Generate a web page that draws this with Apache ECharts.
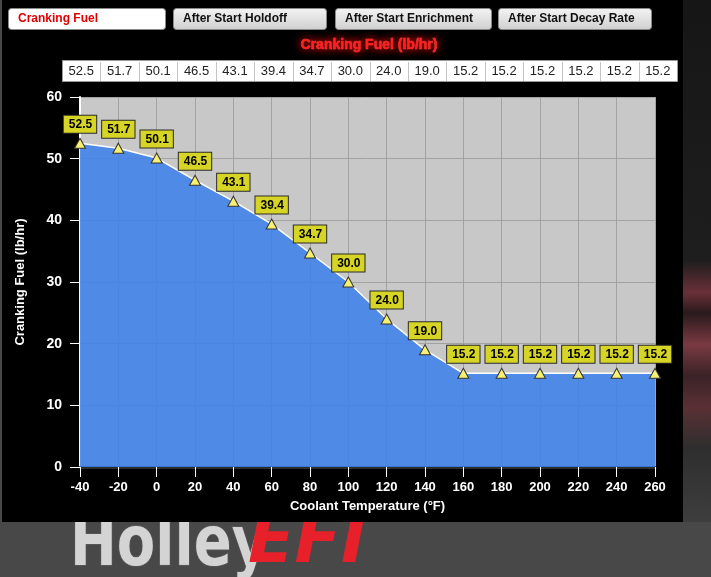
<!DOCTYPE html>
<html>
<head>
<meta charset="utf-8">
<script src="https://cdn.jsdelivr.net/npm/echarts@6/dist/echarts.min.js"></script>
<style>
html,body{margin:0;padding:0;background:#484848;}
#c{width:711px;height:577px;}
</style>
</head>
<body>
<div id="c"></div>
<script>
// ---- data ----
var temps = [-40, -20, 0, 20, 40, 60, 80, 100, 120, 140, 160, 180, 200, 220, 240, 260];
var fuel = [52.5, 51.7, 50.1, 46.5, 43.1, 39.4, 34.7, 30.0, 24.0, 19.0, 15.2, 15.2, 15.2, 15.2, 15.2, 15.2];
var tabs = ['Cranking Fuel', 'After Start Holdoff', 'After Start Enrichment', 'After Start Decay Rate'];
var titleText = 'Cranking Fuel (lb/hr)';
var xName = 'Coolant Temperature (°F)';
var yName = 'Cranking Fuel (lb/hr)';

var chart = echarts.init(document.getElementById('c'), null, {renderer: 'canvas'});

var FONT = 'Liberation Sans, Arial, sans-serif';
var graphics = [];
// page background pieces
graphics.push({type: 'rect', z: -100, shape: {x: 0, y: 0, width: 711, height: 577}, style: {fill: '#484848'}, silent: true});
graphics.push({type: 'rect', z: -99, shape: {x: 683, y: 0, width: 28, height: 522},
  style: {fill: new echarts.graphic.LinearGradient(0, 0, 0, 1, [
    {offset: 0, color: '#161616'}, {offset: 0.5, color: '#1e1e1e'}, {offset: 0.56, color: '#6a3038'},
    {offset: 0.6, color: '#2a1a1c'}, {offset: 0.66, color: '#7a3a42'}, {offset: 0.72, color: '#3a2226'},
    {offset: 0.78, color: '#5a3034'}, {offset: 0.86, color: '#2e2e2e'}, {offset: 1, color: '#3e3e3e'}])}, silent: true});
// logo (behind panel)
graphics.push({type: 'text', z: -98, x: 70, y: 512, scaleX: 0.8, originX: 0, originY: 0,
  style: {text: 'Holley', font: 'bold 70px "DejaVu Sans", sans-serif',
  fill: '#d4d4d4', stroke: '#555', lineWidth: 2, textVerticalAlign: 'top', verticalAlign: 'top'}, silent: true});
graphics.push({type: 'text', z: -98, x: 248, y: 510, style: {text: 'EFI', font: 'italic bold 68px "DejaVu Sans", sans-serif', fill: '#e8202a',
  textVerticalAlign: 'top', verticalAlign: 'top'}, silent: true});
// black panel
graphics.push({type: 'rect', z: -97, shape: {x: 2, y: 0, width: 681, height: 522}, style: {fill: '#000000'}, silent: true});

// tab buttons
var btnX = [8, 173, 335, 498], btnW = [157, 153, 156, 153];
tabs.forEach(function (t, i) {
  var active = i === 0;
  graphics.push({type: 'rect', z: 10, shape: {x: btnX[i] + 0.5, y: 8.5, width: btnW[i], height: 21, r: 3},
    style: {fill: active ? '#ffffff' : new echarts.graphic.LinearGradient(0, 0, 0, 1, [{offset: 0, color: '#f4f4f4'}, {offset: 1, color: '#cfcfcf'}]),
      stroke: '#8a8a8a', lineWidth: 1}, silent: true});
  graphics.push({type: 'text', z: 11, x: btnX[i] + 10, y: 19, style: {text: t, font: 'bold 12px ' + FONT,
    fill: active ? '#e00000' : '#111111', textVerticalAlign: 'middle', verticalAlign: 'middle'}, silent: true});
});
// title
graphics.push({type: 'text', z: 10, x: 369, y: 45, style: {text: titleText, font: 'bold 14px ' + FONT, fill: '#ff2020',
  align: 'center', verticalAlign: 'middle', textAlign: 'center', textVerticalAlign: 'middle',
  textShadowColor: '#ff0000', textShadowBlur: 8, stroke: '#ff6060', lineWidth: 0.5}, silent: true});
// value table
var tx = 62, tw = 615, ty = 60, th = 21, cw = tw / fuel.length;
graphics.push({type: 'rect', z: 10, shape: {x: tx + 0.5, y: ty + 0.5, width: tw, height: th}, style: {fill: '#ffffff', stroke: '#9a9a9a', lineWidth: 1}, silent: true});
fuel.forEach(function (v, i) {
  if (i > 0) graphics.push({type: 'line', z: 11, shape: {x1: Math.round(tx + i * cw) + 0.5, y1: ty + 2, x2: Math.round(tx + i * cw) + 0.5, y2: ty + th}, style: {stroke: '#c4c4c4', lineWidth: 1}, silent: true});
  graphics.push({type: 'text', z: 12, x: tx + (i + 0.5) * cw, y: ty + th / 2 + 1, style: {text: v.toFixed(1), font: '13px ' + FONT, fill: '#222',
    align: 'center', verticalAlign: 'middle', textAlign: 'center', textVerticalAlign: 'middle'}, silent: true});
});

var seriesData = temps.map(function (t, i) { return [t, fuel[i]]; });

chart.setOption({
  animation: false,
  backgroundColor: 'transparent',
  graphic: graphics,
  grid: {left: 80, right: 56, top: 97, bottom: 110, show: true, backgroundColor: '#c8c8c8', borderWidth: 0, z: 0},
  xAxis: {
    type: 'value', min: -40, max: 260, interval: 20,
    name: xName, nameLocation: 'middle', nameGap: 33,
    nameTextStyle: {color: '#ffffff', fontWeight: 'bold', fontSize: 13, fontFamily: FONT},
    axisLine: {show: true, onZero: false, lineStyle: {color: '#2e2e2e', width: 3}},
    axisTick: {show: true, inside: false, length: 10, lineStyle: {color: '#ffffff', width: 1}},
    axisLabel: {color: '#ffffff', fontWeight: 'bold', fontSize: 13, fontFamily: FONT, margin: 14},
    splitLine: {show: true, lineStyle: {color: '#a2a2a2', width: 1}}
  },
  yAxis: {
    type: 'value', min: 0, max: 60, interval: 10,
    name: yName, nameLocation: 'middle', nameGap: 53, nameRotate: 90,
    nameTextStyle: {color: '#ffffff', fontWeight: 'bold', fontSize: 13, fontFamily: FONT},
    axisLine: {show: true, onZero: false, lineStyle: {color: '#ffffff', width: 2}},
    axisTick: {show: true, inside: false, length: 10, lineStyle: {color: '#ffffff', width: 1}},
    axisLabel: {color: '#ffffff', fontWeight: 'bold', fontSize: 14, fontFamily: FONT, margin: 18},
    splitLine: {show: true, lineStyle: {color: '#a2a2a2', width: 1}}
  },
  series: [{
    type: 'line',
    data: seriesData,
    smooth: false,
    clip: false,
    symbol: 'triangle',
    symbolSize: [11, 10],
    itemStyle: {color: '#f8f070', borderColor: '#333', borderWidth: 1},
    lineStyle: {color: '#ffffff', width: 1.5},
    areaStyle: {color: 'rgba(58,128,235,0.86)', opacity: 1},
    label: {
      show: true, position: 'top', distance: 5,
      formatter: function (p) { return p.value[1].toFixed(1); },
      backgroundColor: '#d6d424', borderColor: '#2a2a2a', borderWidth: 1,
      padding: [3, 4, 2, 5], color: '#000', fontWeight: 'bold', fontSize: 12, fontFamily: FONT
    },
    z: 3
  }]
});
</script>
</body>
</html>
